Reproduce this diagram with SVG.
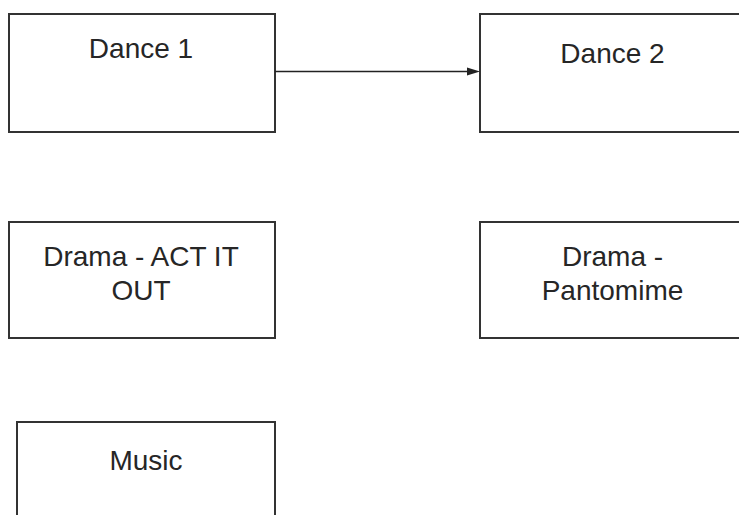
<svg xmlns="http://www.w3.org/2000/svg" width="739" height="515" viewBox="0 0 739 515">
<style>
.box{fill:#fff;stroke:#333;stroke-width:2}
.t{font-family:"Liberation Sans",Arial,sans-serif;font-size:28px;fill:#262626;text-anchor:middle}
.c{stroke:#222;stroke-width:1.6;fill:none}
</style>
<rect width="739" height="515" fill="#fff"/>
<g id="dance1"><rect class="box" x="9" y="14" width="266" height="118"/><text class="t" x="141" y="57.5">Dance 1</text></g>
<g id="dance2"><rect class="box" x="480" y="14" width="266" height="118"/><text class="t" x="612.5" y="62.5">Dance 2</text></g>
<g id="drama-act"><rect class="box" x="9" y="222" width="266" height="116"/><text class="t" x="141" y="265.5">Drama - ACT IT</text><text class="t" x="141" y="300">OUT</text></g>
<g id="drama-pantomime"><rect class="box" x="480" y="222" width="266" height="116"/><text class="t" x="612.5" y="265.5">Drama -</text><text class="t" x="612.5" y="300">Pantomime</text></g>
<g id="music"><rect class="box" x="17" y="422" width="258" height="110"/><text class="t" x="146" y="470">Music</text></g>
<g id="connectors">
<line class="c" x1="275" y1="71.5" x2="468" y2="71.5"/>
<polygon points="480,71.5 467,67.5 467,75.5" fill="#222"/>
</g>
</svg>
